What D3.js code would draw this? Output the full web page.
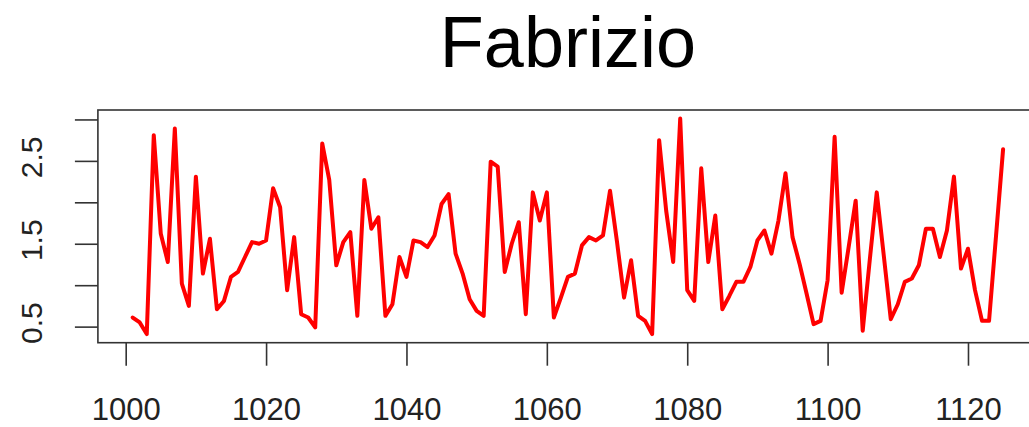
<!DOCTYPE html>
<html>
<head>
<meta charset="utf-8">
<script src="https://cdn.jsdelivr.net/npm/d3@7"></script>
<style>
  html, body { margin: 0; padding: 0; background: #fff; }
  svg { display: block; }
</style>
</head>
<body>
<svg id="chart" width="1029" height="427"></svg>
<script>
const titleText = "Fabrizio";
const startYear = 1001;
const values = [
  0.61, 0.55, 0.41, 2.81, 1.62, 1.28, 2.89, 1.02, 0.75, 2.31,
  1.14, 1.56, 0.71, 0.81, 1.10, 1.16, 1.34, 1.52, 1.50, 1.54,
  2.17, 1.94, 0.94, 1.58, 0.65, 0.61, 0.49, 2.71, 2.27, 1.24,
  1.52, 1.64, 0.63, 2.27, 1.68, 1.82, 0.63, 0.77, 1.34, 1.10,
  1.54, 1.52, 1.46, 1.60, 1.98, 2.10, 1.38, 1.14, 0.83, 0.69,
  0.63, 2.49, 2.43, 1.16, 1.50, 1.76, 0.65, 2.12, 1.78, 2.12,
  0.61, 0.85, 1.10, 1.14, 1.48, 1.58, 1.54, 1.60, 2.14, 1.52,
  0.85, 1.30, 0.63, 0.57, 0.41, 2.75, 1.90, 1.28, 3.01, 0.94,
  0.81, 2.41, 1.28, 1.84, 0.71, 0.87, 1.04, 1.04, 1.22, 1.54,
  1.66, 1.38, 1.78, 2.35, 1.58, 1.26, 0.90, 0.53, 0.57, 1.06,
  2.79, 0.91, 1.46, 2.02, 0.45, 1.30, 2.12, 1.36, 0.59, 0.77,
  1.04, 1.08, 1.24, 1.68, 1.68, 1.34, 1.66, 2.31, 1.20, 1.44,
  0.94, 0.57, 0.57, 1.60, 2.64
];
const years = values.map((v, i) => startYear + i);
const xTicks = [1000, 1020, 1040, 1060, 1080, 1100, 1120];
const yTicks = [0.5, 1.0, 1.5, 2.0, 2.5, 3.0];
const yTickLabels = ["0.5", "", "1.5", "", "2.5", ""];

const svg = d3.select("#chart");
const pLeft = 97.9, pRight = 1037.9, pTop = 110, pBottom = 342.7;

// R-style 4% range extension
const xmin = d3.min(years), xmax = d3.max(years);
const xr = xmax - xmin;
const ymin = d3.min(values), ymax = d3.max(values);
const yr = ymax - ymin;

const x = d3.scaleLinear()
  .domain([xmin - 0.04 * xr, xmax + 0.04 * xr])
  .range([pLeft, pRight]);
const y = d3.scaleLinear()
  .domain([ymin - 0.04 * yr, ymax + 0.04 * yr])
  .range([pBottom, pTop]);

// title
svg.append("text")
  .attr("x", (pLeft + pRight) / 2)
  .attr("y", 67)
  .attr("text-anchor", "middle")
  .attr("font-family", "Liberation Sans, Arial, sans-serif")
  .attr("font-size", 72)
  .attr("fill", "#000")
  .text(titleText);

// line
const line = d3.line()
  .x((d, i) => x(years[i]))
  .y(d => y(d));

svg.append("path")
  .datum(values)
  .attr("d", line)
  .attr("fill", "none")
  .attr("stroke", "#ff0000")
  .attr("stroke-width", 4)
  .attr("stroke-linejoin", "round")
  .attr("stroke-linecap", "round");

// box
svg.append("rect")
  .attr("x", pLeft).attr("y", pTop)
  .attr("width", pRight - pLeft).attr("height", pBottom - pTop)
  .attr("fill", "none")
  .attr("stroke", "#333")
  .attr("stroke-width", 1.6);

// x axis
const xAxis = d3.axisBottom(x)
  .tickValues(xTicks)
  .tickFormat(d3.format("d"))
  .tickSize(23)
  .tickPadding(10);
const gx = svg.append("g")
  .attr("transform", `translate(0,${pBottom})`)
  .call(xAxis);
gx.select(".domain").remove();
gx.selectAll(".tick line").attr("stroke", "#333").attr("stroke-width", 1.6);
gx.selectAll(".tick text")
  .attr("font-family", "Liberation Sans, Arial, sans-serif")
  .attr("font-size", 31)
  .attr("fill", "#222")
  .attr("dy", null)
  .attr("y", 77);

// y axis
const yAxis = d3.axisLeft(y)
  .tickValues(yTicks)
  .tickFormat((d, i) => yTickLabels[i])
  .tickSize(23);
const gy = svg.append("g")
  .attr("transform", `translate(${pLeft},0)`)
  .call(yAxis);
gy.select(".domain").remove();
gy.selectAll(".tick line").attr("stroke", "#333").attr("stroke-width", 1.6);
gy.selectAll(".tick text")
  .attr("font-family", "Liberation Sans, Arial, sans-serif")
  .attr("font-size", 30)
  .attr("fill", "#222")
  .attr("text-anchor", "middle")
  .attr("x", null)
  .attr("dy", null)
  .attr("transform", `translate(${31 - pLeft + 10.8},-4) rotate(-90)`);
</script>
</body>
</html>
